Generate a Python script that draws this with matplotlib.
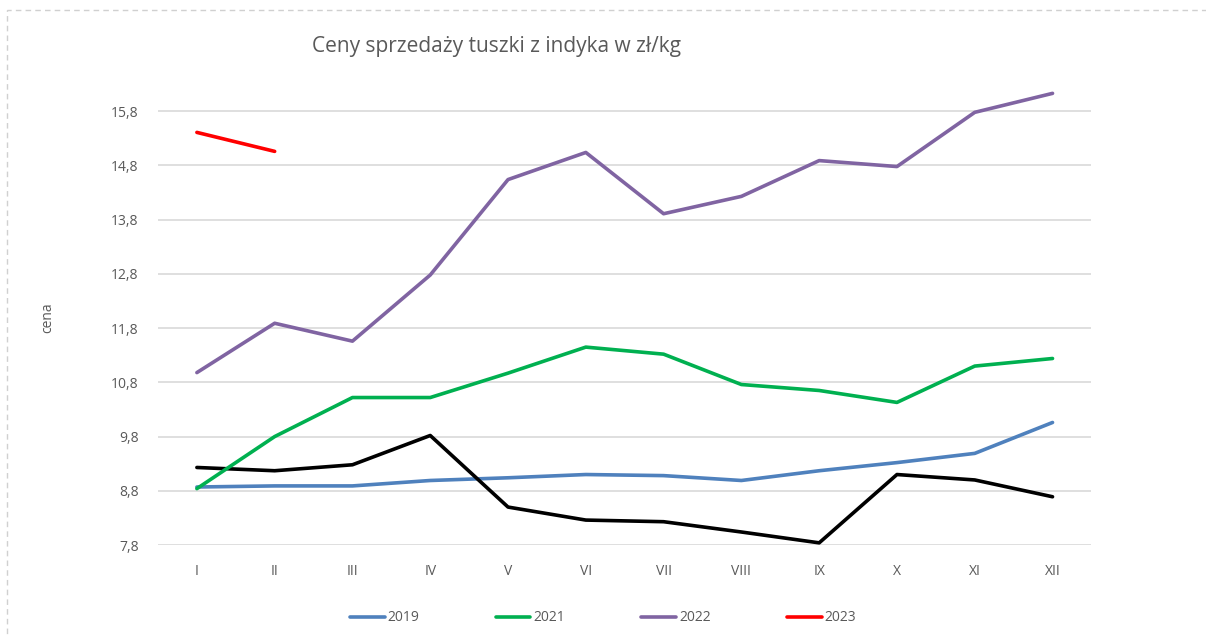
import matplotlib
matplotlib.use('Agg')
import matplotlib.pyplot as plt
from matplotlib.patches import Rectangle

miesiace = ['I', 'II', 'III', 'IV', 'V', 'VI', 'VII', 'VIII', 'IX', 'X', 'XI', 'XII']

ceny2019 = [8.87, 8.89, 8.89, 8.99, 9.04, 9.10, 9.08, 8.99, 9.17, 9.32, 9.49, 10.06]
ceny2020 = [9.23, 9.17, 9.28, 9.82, 8.50, 8.26, 8.23, 8.04, 7.84, 9.10, 9.00, 8.69]
ceny2021 = [8.84, 9.80, 10.52, 10.52, 10.97, 11.45, 11.32, 10.76, 10.65, 10.43, 11.10, 11.24]
ceny2022 = [10.98, 11.89, 11.56, 12.78, 14.54, 15.04, 13.91, 14.23, 14.89, 14.78, 15.78, 16.13]
ceny2023 = [15.41, 15.06]

ticks_y = [7.8, 8.8, 9.8, 10.8, 11.8, 12.8, 13.8, 14.8, 15.8]

plt.rcParams['font.family'] = ['Open Sans', 'DejaVu Sans']

fig = plt.figure(figsize=(12.06, 6.37), dpi=100)
ax = fig.add_axes([0.131, 0.1444, 0.774, 0.715])

x = list(range(len(miesiace)))
lw = 2.6
ax.plot(x, ceny2019, color='#4F81BD', lw=lw, label='2019', solid_capstyle='round')
ax.plot(x, ceny2020, color='black', lw=lw, label='_nolegend_', solid_capstyle='round')
ax.plot(x, ceny2021, color='#00B050', lw=lw, label='2021', solid_capstyle='round')
ax.plot(x, ceny2022, color='#8064A2', lw=lw, label='2022', solid_capstyle='round')
ax.plot(x[:len(ceny2023)], ceny2023, color='#FF0000', lw=lw, label='2023', solid_capstyle='round')

ax.set_xlim(-0.5, 11.5)
ax.set_ylim(7.8, 16.2)
ax.set_yticks(ticks_y)
ax.set_yticklabels([str(t).replace('.', ',') for t in ticks_y])
ax.set_xticks(x)
ax.set_xticklabels(miesiace)
ax.tick_params(length=0, colors='#595959', labelsize=10)
ax.tick_params(axis='x', pad=14)
ax.tick_params(axis='y', pad=14)
ax.grid(axis='y', color='#D9D9D9', lw=1.2)
ax.set_axisbelow(True)
for s in ax.spines.values():
    s.set_visible(False)

ax.set_ylabel('cena', color='#595959', fontsize=10, labelpad=40)
fig.text(0.412, 0.927, 'Ceny sprzedaży tuszki z indyka w zł/kg', ha='center', va='center',
         fontsize=15, color='#595959')

leg = fig.legend(loc='center', bbox_to_anchor=(0.5, 0.03), ncol=4, frameon=False,
                 handlelength=2.5, columnspacing=5.5, fontsize=10, handletextpad=0.2)
for t in leg.get_texts():
    t.set_color('#595959')

fig.patches.append(Rectangle((0.006, -0.05), 1.1, 1.034, transform=fig.transFigure,
                             fill=False, ls=(0, (4, 3)), lw=1, edgecolor='#D0D0D0'))

fig.savefig('out.png', dpi=100)
